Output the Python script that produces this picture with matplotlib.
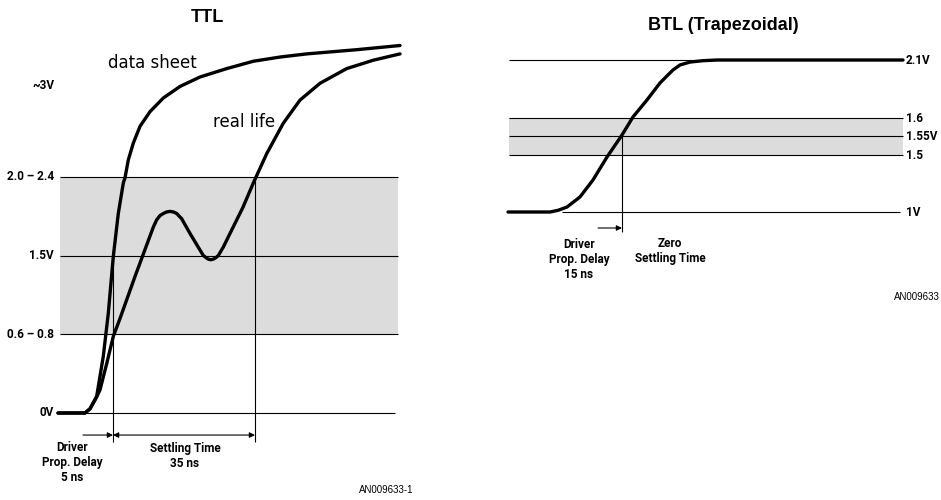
import matplotlib
matplotlib.use("Agg")
import matplotlib.pyplot as plt
import numpy as np

# ---- TTL panel (x: drawing time units, y: volts) ----
ttl_sheet_t = [58, 85, 90, 96.7, 103.3, 108.3, 113.3, 118.3, 123.3, 125, 128.3, 133.3, 140, 150, 163.3,
               180, 200, 226.7, 253.3, 280, 306.7, 356.7, 400]
ttl_sheet_v = [0, 0, 0.04, 0.16, 0.54, 0.95, 1.49, 1.90, 2.19, 2.24, 2.41, 2.57, 2.73, 2.87, 3.00,
               3.11, 3.20, 3.28, 3.35, 3.39, 3.42, 3.46, 3.50]

ttl_real_t = [58, 85, 90, 96, 100, 106.7, 113.3, 120, 135, 153.3, 156.7, 160, 163.3, 166.7, 170, 173.3, 176.7,
              181.7, 190, 203.3, 206, 208.3, 210.8, 213.3, 216, 218.3, 223.3, 230, 243, 253.3, 266.7,
              283.3, 300, 320, 346.7, 373.3, 400]
ttl_real_v = [0, 0, 0.04, 0.14, 0.22, 0.47, 0.73, 0.90, 1.30, 1.77, 1.84, 1.88, 1.90, 1.915, 1.92, 1.915, 1.90,
              1.85, 1.71, 1.50, 1.48, 1.465, 1.46, 1.465, 1.48, 1.50, 1.58, 1.71, 1.96, 2.19, 2.47,
              2.76, 2.98, 3.14, 3.28, 3.36, 3.42]

ttl_levels = [0, 0.75, 1.5, 2.25]
ttl_level_labels = ["0V", "0.6 \u2013 0.8", "1.5V", "2.0 \u2013 2.4"]
ttl_band = (0.75, 2.25)
ttl_delay = (83, 113)       # driver prop. delay 5 ns
ttl_settle = (113, 255)     # settling time 35 ns

# ---- BTL panel (x: drawing time units, y: drawn level) ----
btl_t = [508, 550, 558, 567, 580, 593, 607, 622, 633, 647, 660, 673, 680, 690, 703, 717, 903]
btl_v = [1.0, 1.0, 1.012, 1.036, 1.109, 1.232, 1.398, 1.557, 1.688, 1.811, 1.934, 2.028, 2.064, 2.085, 2.095, 2.1, 2.1]

btl_levels = [1.0, 1.41, 1.55, 1.68, 2.1]
btl_level_labels = ["1V", "1.5", "1.55V", "1.6", "2.1V"]
btl_band = (1.41, 1.68)
btl_delay = (598, 622)      # driver prop. delay 15 ns

small = dict(family=["Roboto", "DejaVu Sans"], fontsize=8.5, weight="bold")
thick = dict(color="black", lw=2.4, solid_capstyle="round", solid_joinstyle="round")
thin = dict(color="black", lw=0.8)

fig = plt.figure(figsize=(9.41, 5.0), dpi=100)

# left panel
ax = fig.add_axes([0, 0, 470.5 / 941, 1])
ax.set_xlim(0, 470.5)
ax.set_ylim(-87 / 105, 413 / 105)
ax.axis("off")

ax.fill_between([60, 398], ttl_band[0], ttl_band[1], color="#dcdcdc", lw=0)
ax.hlines(ttl_levels[1:], 60, 398, **thin)
ax.hlines(ttl_levels[0], 85, 395, **thin)
ax.vlines(ttl_delay[1], -0.276, 1.5, **thin)
ax.vlines(ttl_settle[1], -0.276, ttl_band[1], **thin)
ax.plot(ttl_sheet_t, ttl_sheet_v, **thick)
ax.plot(ttl_real_t, ttl_real_v, **thick)

ax.annotate("", xy=(ttl_delay[1], -0.21), xytext=(ttl_delay[0], -0.21),
            arrowprops=dict(arrowstyle="-|>", color="black", lw=0.8, mutation_scale=8, shrinkA=0, shrinkB=0))
ax.annotate("", xy=(ttl_settle[1], -0.21), xytext=(ttl_settle[0], -0.21),
            arrowprops=dict(arrowstyle="<|-|>", color="black", lw=0.8, mutation_scale=8, shrinkA=0, shrinkB=0))

for v, lab in zip(ttl_levels, ttl_level_labels):
    ax.text(54, v, lab, ha="right", va="center", **small)
ax.text(54, 3.12, "~3V", ha="right", va="center", **small)

ax.text(108, 3.33, "data sheet", ha="left", va="center", family="DejaVu Sans", fontsize=12)
ax.text(213, 2.77, "real life", ha="left", va="center", family="DejaVu Sans", fontsize=12)

ax.text(72, -0.476, "Driver\nProp. Delay\n5 ns", ha="center", va="center", **small)
ax.text(185, -0.41, "Settling Time\n35 ns", ha="center", va="center", **small)

ax.text(207, 3.77, "TTL", ha="center", va="center", family="Liberation Sans", fontsize=13, weight="bold")
ax.text(413, -0.733, "AN009633-1", ha="right", va="center", family="Liberation Sans", fontsize=7)

# right panel
k = 1.1 / 152
bx = fig.add_axes([470.5 / 941, 0, 470.5 / 941, 1])
bx.set_xlim(470.5, 941)
bx.set_ylim(1 - 288 * k, 1 + 212 * k)
bx.axis("off")

bx.fill_between([509, 903], btl_band[0], btl_band[1], color="#dcdcdc", lw=0)
bx.hlines(btl_levels[1:], 509, 903, **thin)
bx.hlines(btl_levels[0], 562, 900, **thin)
bx.vlines(btl_delay[1], 1 - 20 * k, btl_levels[2], **thin)
bx.plot(btl_t, btl_v, **thick)

bx.annotate("", xy=(btl_delay[1], 1 - 16 * k), xytext=(btl_delay[0], 1 - 16 * k),
            arrowprops=dict(arrowstyle="-|>", color="black", lw=0.8, mutation_scale=8, shrinkA=0, shrinkB=0))

for v, lab in zip(btl_levels, btl_level_labels):
    bx.text(906, v, lab, ha="left", va="center", **small)

bx.text(579, 1 - 47 * k, "Driver\nProp. Delay\n15 ns", ha="center", va="center", **small)
bx.text(670, 1 - 39 * k, "Zero\nSettling Time", ha="center", va="center", **small)

bx.text(723, 1 + 186 * k, "BTL (Trapezoidal)", ha="center", va="center", family="Liberation Sans", fontsize=13, weight="bold")
bx.text(940, 1 - 85 * k, "AN009633", ha="right", va="center", family="Liberation Sans", fontsize=7)

fig.savefig("out.png", dpi=100, facecolor="white")
